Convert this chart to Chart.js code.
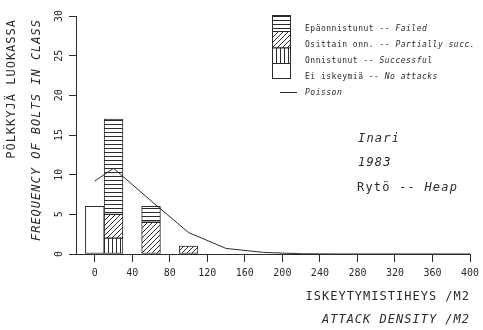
<!DOCTYPE html>
<html>
<head>
<meta charset="utf-8">
<script src="https://cdn.jsdelivr.net/npm/chart.js@4.4.1/dist/chart.umd.min.js"></script>
<style>
    html, body { margin: 0; background: #fff; }
    #chart-container { width: 483px; height: 330px; }
</style>
</head>
<body>
<div id="chart-container"><canvas id="barChart"></canvas></div>
<script>
// attack density classes (class centres, /m2)
const classes = [0, 20, 60, 100];
const noAttacks = [6, null, null, null];
const successful = [null, 2, null, null];
const partial = [null, 3, 4, 1];
const failed = [null, 12, 2, null];

// Poisson expectation
const poissonX = [0, 20, 60, 100, 140, 180, 220, 260, 300, 340, 380, 400];
const poissonY = [9.2, 10.8, 6.7, 2.7, 0.7, 0.2, 0.03, 0, 0, 0, 0, 0];

const xTicks = [0, 40, 80, 120, 160, 200, 240, 280, 320, 360, 400];
const yTicks = [0, 5, 10, 15, 20, 25, 30];

const ink = '#2b2b2b';
const mono = "'DejaVu Sans Mono', monospace";

function makePattern(kind) {
    const size = kind === 'diag' ? 5 : 4;
    const c = document.createElement('canvas');
    c.width = size;
    c.height = size;
    const p = c.getContext('2d');
    p.fillStyle = '#fff';
    p.fillRect(0, 0, size, size);
    p.strokeStyle = ink;
    p.lineWidth = 1;
    p.beginPath();
    if (kind === 'horiz') {
        p.moveTo(0, 0.5); p.lineTo(size, 0.5);
    } else if (kind === 'vert') {
        p.moveTo(0.5, 0); p.lineTo(0.5, size);
    } else {
        p.moveTo(-1, size + 1); p.lineTo(size + 1, -1);
        p.moveTo(-1, 1); p.lineTo(1, -1);
        p.moveTo(size - 1, size + 1); p.lineTo(size + 1, size - 1);
    }
    p.stroke();
    return p.createPattern(c, 'repeat');
}

const patFailed = makePattern('horiz');
const patPartial = makePattern('diag');
const patSuccess = makePattern('vert');

const toPoints = (xs, ys) => xs.map((x, i) => ({ x: x, y: ys[i] })).filter(p => p.y !== null);

const barStyle = {
    type: 'bar',
    stack: 'bars',
    order: 1,
    borderColor: ink,
    borderWidth: 1,
    borderSkipped: false,
    barPercentage: 1,
    categoryPercentage: 1
};

const data = {
    datasets: [
        Object.assign({ label: 'Ei iskeymiä -- No attacks', data: toPoints(classes, noAttacks), backgroundColor: '#fff' }, barStyle),
        Object.assign({ label: 'Onnistunut -- Successful', data: toPoints(classes, successful), backgroundColor: patSuccess }, barStyle),
        Object.assign({ label: 'Osittain onn. -- Partially succ.', data: toPoints(classes, partial), backgroundColor: patPartial }, barStyle),
        Object.assign({ label: 'Epäonnistunut -- Failed', data: toPoints(classes, failed), backgroundColor: patFailed }, barStyle),
        {
            type: 'line',
            label: 'Poisson',
            stack: 'poisson',
            order: 0,
            data: toPoints(poissonX, poissonY),
            borderColor: ink,
            borderWidth: 1,
            pointRadius: 0,
            tension: 0,
            fill: false
        }
    ]
};

// mixed upright / italic text on one line
function drawMixed(ctx, parts, x, y, size, spacing) {
    let cx = x;
    parts.forEach(function (part) {
        ctx.font = (part[1] ? 'italic ' : '') + size + 'px ' + mono;
        ctx.letterSpacing = spacing + 'px';
        ctx.fillText(part[0], cx, y);
        cx += ctx.measureText(part[0]).width;
    });
}

const textPlugin = {
    id: 'textPlugin',
    afterDraw: function (chart) {
        const ctx = chart.ctx;
        const xs = chart.scales.x;
        const ys = chart.scales.y;
        ctx.save();
        ctx.fillStyle = ink;
        ctx.textBaseline = 'middle';

        // x tick labels
        ctx.font = '10px ' + mono;
        ctx.letterSpacing = '0px';
        ctx.textAlign = 'center';
        xs.ticks.forEach(function (t) {
            ctx.fillText(String(t.value), xs.getPixelForValue(t.value), 273);
        });

        // y tick labels (rotated)
        yTicks.forEach(function (v) {
            ctx.save();
            ctx.translate(59, ys.getPixelForValue(v));
            ctx.rotate(-Math.PI / 2);
            ctx.fillText(String(v), 0, 0);
            ctx.restore();
        });

        // axis titles
        ctx.textAlign = 'right';
        ctx.font = '12px ' + mono;
        ctx.letterSpacing = '1px';
        ctx.fillText('ISKEYTYMISTIHEYS /M2', 470, 297);
        ctx.font = 'italic 12px ' + mono;
        ctx.fillText('ATTACK DENSITY /M2', 470, 320);

        ctx.save();
        ctx.translate(12, 19);
        ctx.rotate(-Math.PI / 2);
        ctx.font = '12px ' + mono;
        ctx.fillText('PÖLKKYJÄ LUOKASSA', 0, 0);
        ctx.restore();

        ctx.save();
        ctx.translate(37, 19);
        ctx.rotate(-Math.PI / 2);
        ctx.font = 'italic 12px ' + mono;
        ctx.fillText('FREQUENCY OF BOLTS IN CLASS', 0, 0);
        ctx.restore();

        // legend boxes
        const boxes = [
            [15, 31, patFailed],
            [31, 47.5, patPartial],
            [47.5, 63, patSuccess],
            [63, 78, '#fff']
        ];
        ctx.strokeStyle = ink;
        ctx.lineWidth = 1;
        boxes.forEach(function (b) {
            ctx.fillStyle = b[2];
            ctx.fillRect(272.5, b[0] + 0.5, 18, b[1] - b[0]);
            ctx.strokeRect(272.5, b[0] + 0.5, 18, b[1] - b[0]);
        });
        ctx.beginPath();
        ctx.moveTo(280, 92.5);
        ctx.lineTo(297, 92.5);
        ctx.stroke();

        ctx.fillStyle = ink;
        ctx.textAlign = 'left';
        drawMixed(ctx, [['Epäonnistunut -- ', false], ['Failed', true]], 305, 29, 8, 0.5);
        drawMixed(ctx, [['Osittain onn. -- ', false], ['Partially succ.', true]], 305, 44.5, 8, 0.5);
        drawMixed(ctx, [['Onnistunut -- ', false], ['Successful', true]], 305, 60.5, 8, 0.5);
        drawMixed(ctx, [['Ei iskeymiä -- ', false], ['No attacks', true]], 305, 77, 8, 0.5);
        drawMixed(ctx, [['Poisson', true]], 305, 93, 8, 0.5);

        // site annotation
        drawMixed(ctx, [['Inari', true]], 358, 139, 12, 1.2);
        drawMixed(ctx, [['1983', true]], 358, 163, 12, 1.2);
        drawMixed(ctx, [['Rytö -- ', false], ['Heap', true]], 357, 188, 12, 1.2);

        ctx.restore();
    }
};

new Chart(document.getElementById('barChart').getContext('2d'), {
    type: 'bar',
    data: data,
    options: {
        responsive: true,
        maintainAspectRatio: false,
        animation: false,
        layout: {
            padding: { left: 69, right: 13, top: 16, bottom: 68 }
        },
        plugins: {
            legend: { display: false },
            tooltip: { enabled: false }
        },
        scales: {
            x: {
                type: 'linear',
                min: -20,
                max: 400,
                offset: false,
                afterBuildTicks: function (scale) {
                    scale.ticks = xTicks.map(v => ({ value: v }));
                },
                grid: {
                    offset: false,
                    drawOnChartArea: false,
                    drawTicks: true,
                    tickLength: 8,
                    color: ink
                },
                border: { display: true, color: ink, width: 1 },
                ticks: { display: false }
            },
            y: {
                stacked: true,
                min: 0,
                max: 30,
                afterBuildTicks: function (scale) {
                    scale.ticks = yTicks.map(v => ({ value: v }));
                },
                grid: {
                    drawOnChartArea: false,
                    drawTicks: true,
                    tickLength: 7,
                    color: ink
                },
                border: { display: true, color: ink, width: 1 },
                ticks: { display: false }
            }
        }
    },
    plugins: [textPlugin]
});
</script>
</body>
</html>
